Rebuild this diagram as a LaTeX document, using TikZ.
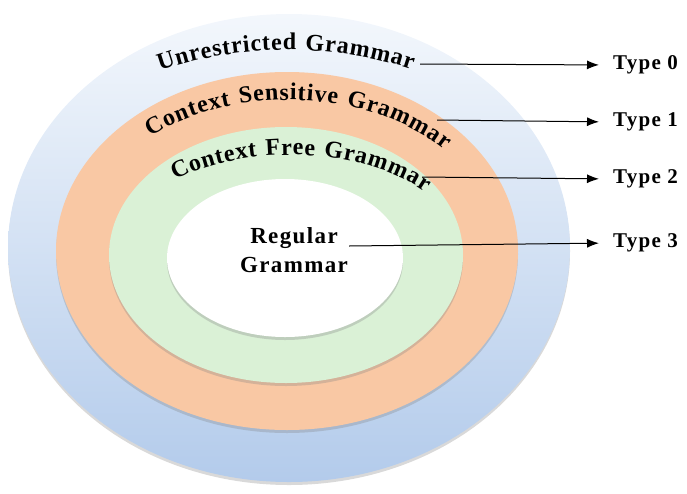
\documentclass[tikz,border=0pt]{standalone}
\usepackage{fontspec}
\setmainfont{Liberation Serif}[LetterSpace=6]
\usepackage{tikz}
\usetikzlibrary{positioning}
\usetikzlibrary{arrows.meta}
\usetikzlibrary{decorations.text}
\usetikzlibrary{shadows}

\definecolor{outerblue}{HTML}{B3CBEB}
\definecolor{outertop}{HTML}{F3F7FC}
\definecolor{csorange}{HTML}{F9C8A4}
\definecolor{cfgreen}{HTML}{DAF1D6}

\begin{document}
\begin{tikzpicture}
  [x=1pt, y=-1pt,
   ring/.style={drop shadow={opacity=0.3, shadow xshift=0pt, shadow yshift=-3pt}},
   arctext/.style={decorate,
      decoration={text along path, text align=fit to path,
        text={|\bfseries\fontsize{24}{28}\selectfont|#1}}},
   typelbl/.style={font=\bfseries\fontsize{21}{25}\selectfont, anchor=west, inner sep=0pt},
   link/.style={-{Latex[length=12pt,width=9pt]}, line width=1pt, shorten >=14pt},
  ]
  \useasboundingbox (0,0) rectangle (687,493);

  % nested grammar classes
  \path[ring, top color=outertop, bottom color=outerblue] (289,248) ellipse [x radius=281, y radius=234];
  \path[ring, fill=csorange] (287,251) ellipse [x radius=231, y radius=179];
  \path[ring, fill=cfgreen] (286,255) ellipse [x radius=177, y radius=128];
  \path[ring, fill=white] (285,258) ellipse [x radius=118, y radius=79];

  % curved names
  \path[arctext={Unrestricted Grammar}] (288,250) ++(243.5:287 and 200)
    arc [start angle=243.5, end angle=295.6, x radius=287, y radius=200];
  \path[arctext={Context Sensitive Grammar}] (288,250) ++(229.2:211 and 150)
    arc [start angle=229.2, end angle=318.1, x radius=211, y radius=150];
  \path[arctext={Context Free Grammar}] (290,255) ++(228.6:174 and 100)
    arc [start angle=228.6, end angle=320.9, x radius=174, y radius=100];

  \node[font=\bfseries\fontsize{23}{29}\selectfont, align=center] (reg) at (294,250) {Regular\\Grammar};

  \coordinate (ugEnd) at (420,64);
  \coordinate (csgEnd) at (437,120);
  \coordinate (cfgEnd) at (422,177);
  \coordinate (rgEnd) at (349,246);

  % chomsky types
  \node[typelbl] (type0) at (613,65) {Type 0};
  \node[typelbl] (type1) at (613,122) {Type 1};
  \node[typelbl] (type2) at (613,179) {Type 2};
  \node[typelbl] (type3) at (613,243) {Type 3};

  \draw[link] (ugEnd) -- (type0.west);
  \draw[link] (csgEnd) -- (type1.west);
  \draw[link] (cfgEnd) -- (type2.west);
  \draw[link] (rgEnd) -- (type3.west);
\end{tikzpicture}
\end{document}
